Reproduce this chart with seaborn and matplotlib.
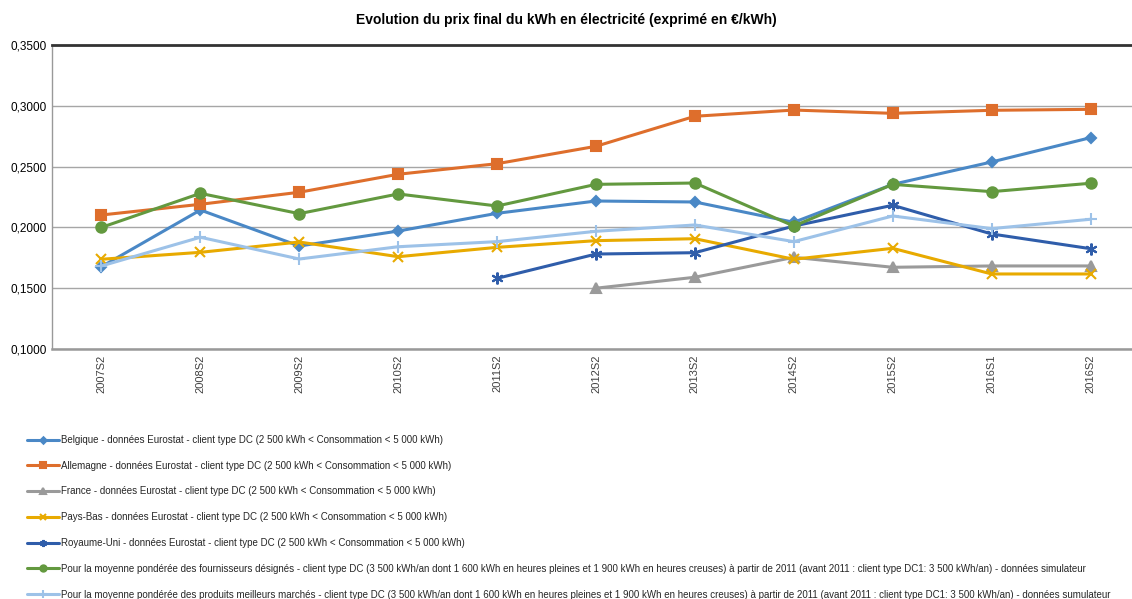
import numpy as np
import pandas as pd
import matplotlib
matplotlib.use("Agg")
import matplotlib.pyplot as plt
import seaborn as sns
from matplotlib.ticker import FuncFormatter

periods = ["2007S2", "2008S2", "2009S2", "2010S2", "2011S2", "2012S2",
           "2013S2", "2014S2", "2015S2", "2016S1", "2016S2"]

belgique = [0.1677, 0.2143, 0.1847, 0.1970, 0.2116, 0.2217, 0.2209, 0.2042, 0.2354, 0.2538, 0.2738]
allemagne = [0.2102, 0.2190, 0.2289, 0.2437, 0.2524, 0.2667, 0.2914, 0.2965, 0.2938, 0.2963, 0.2971]
france = [np.nan, np.nan, np.nan, np.nan, np.nan, 0.1500, 0.1590, 0.1754, 0.1672, 0.1683, 0.1683]
pays_bas = [0.1738, 0.1795, 0.1880, 0.1759, 0.1836, 0.1891, 0.1907, 0.1738, 0.1828, 0.1617, 0.1617]
royaume_uni = [np.nan, np.nan, np.nan, np.nan, 0.1581, 0.1781, 0.1792, 0.2011, 0.2182, 0.1946, 0.1825]
fournisseurs = [0.2000, 0.2280, 0.2113, 0.2275, 0.2176, 0.2354, 0.2365, 0.2011, 0.2354, 0.2294, 0.2363]
meilleurs = [0.1683, 0.1919, 0.1740, 0.1841, 0.1883, 0.1968, 0.2020, 0.1883, 0.2094, 0.1990, 0.2067]

labels = [
    "Belgique - données Eurostat - client type DC (2 500 kWh < Consommation < 5 000 kWh)",
    "Allemagne - données Eurostat - client type DC (2 500 kWh < Consommation < 5 000 kWh)",
    "France - données Eurostat - client type DC (2 500 kWh < Consommation < 5 000 kWh)",
    "Pays-Bas - données Eurostat - client type DC (2 500 kWh < Consommation < 5 000 kWh)",
    "Royaume-Uni - données Eurostat - client type DC (2 500 kWh < Consommation < 5 000 kWh)",
    "Pour la moyenne pondérée des fournisseurs désignés - client type DC (3 500 kWh/an dont 1 600 kWh en heures pleines et 1 900 kWh en heures creuses) à partir de 2011 (avant 2011 : client type DC1: 3 500 kWh/an) - données simulateur",
    "Pour la moyenne pondérée des produits meilleurs marchés - client type DC (3 500 kWh/an dont 1 600 kWh en heures pleines et 1 900 kWh en heures creuses) à partir de 2011 (avant 2011 : client type DC1: 3 500 kWh/an) - données sumulateur",
]
series = [belgique, allemagne, france, pays_bas, royaume_uni, fournisseurs, meilleurs]

colors = ["#4A88C6", "#DE6E2C", "#9A9A9A", "#E8AA00", "#2F5DAA", "#63993F", "#9DC2E8"]
markers = ["D", "s", "^", "x", (6, 2, 0), "o", "+"]
msizes = [5.5, 7, 6.5, 7.5, 8.5, 7.5, 8.5]

sns.set_theme(style="white")
plt.rcParams["font.family"] = ["Liberation Sans", "DejaVu Sans"]

fig = plt.figure(figsize=(11.32, 5.99), dpi=100)
ax = fig.add_axes([52 / 1132, 1 - 349 / 599, (1140 - 52) / 1132, (349 - 45) / 599])

x = np.arange(len(periods))
for vals, lab, c, m, ms in zip(series, labels, colors, markers, msizes):
    df = pd.DataFrame({"x": x, "y": vals}).dropna()
    sns.lineplot(data=df, x="x", y="y", ax=ax, color=c, marker=m, markersize=ms,
                 markeredgecolor=c, markeredgewidth=1.5, linewidth=2.2, label=lab,
                 legend=False)

ax.set_xlim(-0.5, len(periods) - 0.5)
ax.set_ylim(0.10, 0.35)
ax.set_yticks([0.10, 0.15, 0.20, 0.25, 0.30, 0.35])
ax.yaxis.set_major_formatter(FuncFormatter(lambda v, p: f"{v:.4f}".replace(".", ",")))
ax.set_xticks(x)
ax.set_xticklabels(periods, rotation=90, fontsize=8, color="#404040")
ax.tick_params(axis="y", labelsize=8.5, colors="#000000", length=0, pad=4)
ax.tick_params(axis="x", length=0, pad=4)
ax.set_xlabel("")
ax.set_ylabel("")
ax.grid(axis="y", color="#A6A6A6", linewidth=1)
ax.grid(axis="x", visible=False)
ax.spines["right"].set_visible(False)
ax.spines["top"].set_color("#333333")
ax.spines["top"].set_linewidth(2)
ax.spines["left"].set_color("#999999")
ax.spines["left"].set_linewidth(1)
ax.spines["bottom"].set_color("#999999")
ax.spines["bottom"].set_linewidth(1.8)

fig.text(566 / 1132, 1 - 20 / 599, "Evolution du prix final du kWh en électricité (exprimé en €/kWh)",
         ha="center", va="center", fontsize=10, fontweight="bold", color="#000000")

handles, labs = ax.get_legend_handles_labels()
fig.legend(handles, labs, loc="upper left", bbox_to_anchor=(27 / 1132, 1 - 435 / 599),
           frameon=False, labelspacing=1.62, handlelength=3.3,
           handletextpad=0.2, borderpad=0, borderaxespad=0, markerscale=0.6,
           prop={"family": ["Liberation Sans", "DejaVu Sans"], "size": 7})

fig.savefig("out.png", dpi=100)
